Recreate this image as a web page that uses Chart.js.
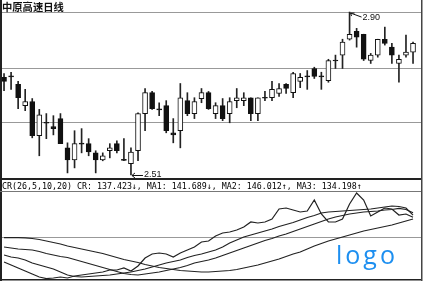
<!DOCTYPE html>
<html>
<head>
<meta charset="utf-8">
<script src="https://cdn.jsdelivr.net/npm/chart.js@4.4.0/dist/chart.umd.min.js"></script>
<style>
  html, body { margin: 0; padding: 0; background: #fff; }
  #wrap { position: relative; width: 425px; height: 281px; overflow: hidden; background: #fff; }
  canvas { position: absolute; left: 0; }
  #title { position: absolute; left: 2px; top: 1px; font: 700 10.3px "Noto Sans CJK SC"; line-height: 12px; color: #111; }
  #crhead { position: absolute; left: 2px; top: 181px; font: 8.3px "DejaVu Sans Mono"; line-height: 10px; color: #000; white-space: pre; }
  #logo { position: absolute; left: 336px; top: 242px; font: 25px "Open Sans"; line-height: 25px; letter-spacing: 3px; color: #1d8ff0; }
</style>
</head>
<body>
<div id="wrap">
  <canvas id="kline" width="425" height="178" style="top:0"></canvas>
  <canvas id="cr" width="425" height="103" style="top:178px"></canvas>
  <div id="title">中原高速日线</div>
  <div id="crhead">CR(26,5,10,20) CR: 137.423↓, MA1: 141.689↓, MA2: 146.012↑, MA3: 134.198↑</div>
  <div id="logo">logo</div>
</div>
<script>
// daily candles (price), one entry per trading day
var opens  = [2.744, 2.746, 2.727, 2.676, 2.686, 2.604, 2.635, 2.626, 2.645, 2.575,
              2.546, 2.585, 2.585, 2.563, 2.546, 2.568, 2.585, 2.546, 2.537, 2.568,
              2.657, 2.707, 2.667, 2.676, 2.611, 2.616, 2.688, 2.657, 2.693, 2.707,
              2.657, 2.676, 2.657, 2.688, 2.688, 2.695, 2.657, 2.695, 2.695, 2.705,
              2.727, 2.707, 2.734, 2.746, 2.765, 2.746, 2.736, 2.784, 2.797, 2.835,
              2.854, 2.847, 2.784, 2.797, 2.835, 2.816, 2.777, 2.797, 2.804];
var closes = [2.734, 2.746, 2.695, 2.686, 2.604, 2.654, 2.635, 2.621, 2.585, 2.546,
              2.585, 2.585, 2.565, 2.546, 2.556, 2.575, 2.568, 2.546, 2.565, 2.657,
              2.707, 2.669, 2.667, 2.616, 2.606, 2.695, 2.657, 2.686, 2.707, 2.669,
              2.676, 2.645, 2.686, 2.695, 2.695, 2.657, 2.695, 2.695, 2.715, 2.717,
              2.717, 2.753, 2.744, 2.746, 2.746, 2.746, 2.784, 2.784, 2.828, 2.847,
              2.840, 2.787, 2.797, 2.835, 2.825, 2.797, 2.787, 2.804, 2.825];
var highs  = [2.753, 2.756, 2.734, 2.715, 2.693, 2.667, 2.657, 2.652, 2.657, 2.587,
              2.616, 2.621, 2.597, 2.568, 2.563, 2.585, 2.592, 2.597, 2.575, 2.659,
              2.717, 2.710, 2.683, 2.688, 2.645, 2.729, 2.707, 2.695, 2.717, 2.710,
              2.683, 2.693, 2.695, 2.717, 2.707, 2.695, 2.695, 2.710, 2.734, 2.729,
              2.729, 2.756, 2.753, 2.760, 2.768, 2.756, 2.787, 2.797, 2.835, 2.900,
              2.861, 2.847, 2.801, 2.835, 2.864, 2.825, 2.797, 2.845, 2.828];
var lows   = [2.712, 2.715, 2.669, 2.664, 2.599, 2.556, 2.597, 2.606, 2.585, 2.515,
              2.527, 2.563, 2.556, 2.515, 2.544, 2.551, 2.563, 2.544, 2.510, 2.544,
              2.616, 2.667, 2.652, 2.611, 2.587, 2.575, 2.652, 2.645, 2.683, 2.667,
              2.645, 2.640, 2.635, 2.671, 2.676, 2.640, 2.640, 2.688, 2.688, 2.698,
              2.705, 2.695, 2.719, 2.715, 2.741, 2.715, 2.732, 2.765, 2.765, 2.833,
              2.816, 2.784, 2.777, 2.792, 2.821, 2.777, 2.732, 2.792, 2.777];

// CR(26,5,10,20) indicator and its three averages
var cr  = [52.5, 46.8, 41.1, 35.4, 29.7, 24.0, 21.0, 22.1, 24.0, 22.1,
           25.9, 27.8, 29.7, 31.6, 33.5, 37.3, 37.3, 41.1, 35.4, 44.9,
           60.1, 67.7, 69.6, 67.7, 62.0, 69.6, 75.3, 81.0, 90.5, 92.4,
           101.9, 107.6, 109.5, 113.3, 119.0, 128.5, 126.6, 128.5, 134.2, 153.2,
           155.1, 151.3, 147.5, 149.4, 170.3, 143.7, 128.5, 128.5, 134.2, 162.7,
           183.6, 170.3, 139.9, 147.5, 155.1, 153.2, 141.8, 143.7, 137.4];
var ma1 = [65.8, 62.0, 60.1, 56.3, 50.6, 46.8, 43.0, 39.2, 33.5, 27.8,
           25.0, 24.0, 25.0, 25.9, 26.9, 27.8, 29.7, 31.6, 33.5, 36.4,
           39.2, 43.0, 46.8, 50.6, 53.5, 56.3, 61.1, 64.9, 67.7, 71.5,
           75.3, 81.0, 88.6, 94.3, 100.0, 103.8, 107.6, 111.4, 115.2, 120.0,
           123.8, 127.6, 132.3, 137.1, 140.9, 145.6, 147.5, 148.5, 149.4, 150.4,
           151.3, 152.3, 153.2, 155.1, 157.0, 158.9, 158.0, 155.1, 141.7];
var ma2 = [81.0, 79.1, 77.2, 76.3, 75.3, 72.5, 68.7, 65.8, 63.0, 61.1,
           57.3, 53.5, 49.7, 45.9, 42.1, 38.3, 34.5, 30.7, 28.8, 27.8,
           29.7, 31.6, 33.5, 36.4, 39.2, 42.1, 45.9, 50.6, 53.5, 56.3,
           60.1, 64.9, 69.6, 74.4, 79.1, 83.9, 88.6, 93.4, 97.2, 101.9,
           105.7, 110.5, 115.2, 120.0, 124.7, 129.5, 134.2, 138.0, 140.9, 143.7,
           145.6, 147.5, 148.5, 149.4, 151.3, 152.3, 154.2, 152.3, 146.0];
var ma3 = [98.7, 98.7, 98.7, 98.5, 97.2, 95.3, 92.4, 89.6, 86.7, 82.9,
           80.1, 77.2, 74.4, 71.5, 68.7, 64.9, 61.1, 57.3, 54.4, 51.6,
           47.8, 44.9, 42.1, 40.2, 38.3, 36.4, 35.4, 34.5, 33.5, 33.5,
           34.5, 35.4, 36.4, 38.3, 41.1, 44.0, 46.8, 50.6, 54.4, 58.2,
           63.0, 67.7, 71.5, 77.2, 82.9, 87.7, 92.4, 96.2, 100.0, 103.8,
           107.6, 111.4, 114.3, 117.1, 120.0, 122.8, 126.6, 130.4, 134.2];

var priceGrid = [2.635, 2.765, 2.898];
var crGrid = [100];

var days = opens.map(function (v, i) { return i; });
function dayAxis() {
  return { type: 'linear', display: false, offset: false, min: -0.43, max: 59.13, grid: { offset: false } };
}

// left / right frame of each panel
var framePlugin = {
  id: 'frame',
  afterDraw: function (chart) {
    var ctx = chart.ctx, a = chart.chartArea;
    ctx.save();
    ctx.fillStyle = '#222';
    ctx.fillRect(0, 0, 2, chart.height);
    ctx.fillStyle = '#444';
    ctx.fillRect(a.right, 0, 1.5, chart.height);
    if (chart.canvas.id === 'cr') {
      ctx.fillStyle = '#222';
      ctx.fillRect(0, 0, a.right, 2);
      ctx.fillRect(0, a.bottom, a.right, 1.5);
      ctx.fillStyle = '#777';
      ctx.fillRect(0, a.top, a.right, 1);
    }
    ctx.restore();
  }
};

// high / low labels on the candle panel
var markPlugin = {
  id: 'marks',
  afterDatasetsDraw: function (chart) {
    var xs = chart.scales.x, ys = chart.scales.y, ctx = chart.ctx;
    var hi = highs.indexOf(Math.max.apply(null, highs));
    var lo = lows.indexOf(Math.min.apply(null, lows));
    ctx.save();
    ctx.strokeStyle = '#111';
    ctx.fillStyle = '#111';
    ctx.lineWidth = 1;
    ctx.font = '9px "Liberation Sans"';
    ctx.textBaseline = 'middle';

    var px = xs.getPixelForValue(hi), py = ys.getPixelForValue(highs[hi]);
    ctx.beginPath();
    ctx.moveTo(px + 1, py + 1); ctx.lineTo(px + 12, py + 5);
    ctx.moveTo(px + 1, py + 1); ctx.lineTo(px + 5, py + 1);
    ctx.moveTo(px + 1, py + 1); ctx.lineTo(px + 2, py + 4);
    ctx.stroke();
    ctx.fillText(highs[hi].toFixed(2), px + 13, py + 5);

    px = xs.getPixelForValue(lo); py = ys.getPixelForValue(lows[lo]);
    ctx.beginPath();
    ctx.moveTo(px + 1, py + 0.5); ctx.lineTo(px + 12, py + 0.5);
    ctx.moveTo(px + 1, py + 0.5); ctx.lineTo(px + 4, py - 2);
    ctx.moveTo(px + 1, py + 0.5); ctx.lineTo(px + 4, py + 3);
    ctx.stroke();
    ctx.fillText(lows[lo].toFixed(2), px + 13, py);
    ctx.restore();
  }
};

new Chart(document.getElementById('kline'), {
  type: 'bar',
  data: {
    datasets: [
      {
        label: 'body',
        data: days.map(function (i) {
          var o = opens[i], c = closes[i];
          return { x: i, y: o === c ? [o - 0.0012, o + 0.0012] : [o, c] };
        }),
        backgroundColor: days.map(function (i) { return closes[i] > opens[i] ? '#fff' : '#111'; }),
        borderColor: '#111',
        borderWidth: 1,
        borderSkipped: false,
        barThickness: 5,
        grouped: false,
        order: 1
      },
      {
        label: 'wick',
        data: days.map(function (i) { return { x: i, y: [lows[i], highs[i]] }; }),
        backgroundColor: '#222',
        barThickness: 1,
        grouped: false,
        order: 2
      }
    ]
  },
  options: {
    responsive: false,
    animation: false,
    events: [],
    layout: { padding: { left: 1, right: 4, top: 0, bottom: 0 } },
    plugins: { legend: { display: false }, tooltip: { enabled: false } },
    scales: {
      x: dayAxis(),
      y: {
        min: 2.5028, max: 2.9289,
        afterBuildTicks: function (s) { s.ticks = priceGrid.map(function (v) { return { value: v }; }); },
        ticks: { display: false },
        border: { display: false },
        grid: { color: '#999', drawTicks: false }
      }
    }
  },
  plugins: [framePlugin, markPlugin]
});

function crLine(vals) {
  return {
    data: days.map(function (i) { return { x: i, y: vals[i] }; }),
    borderColor: '#222',
    borderWidth: 1.2,
    pointRadius: 0,
    tension: 0
  };
}

new Chart(document.getElementById('cr'), {
  type: 'line',
  data: { datasets: [crLine(cr), crLine(ma1), crLine(ma2), crLine(ma3)] },
  options: {
    responsive: false,
    animation: false,
    events: [],
    layout: { padding: { left: 1, right: 4, top: 13, bottom: 2 } },
    plugins: { legend: { display: false }, tooltip: { enabled: false } },
    scales: {
      x: dayAxis(),
      y: {
        min: 20.2, max: 187.4,
        afterBuildTicks: function (s) { s.ticks = crGrid.map(function (v) { return { value: v }; }); },
        ticks: { display: false },
        border: { display: false },
        grid: { color: '#999', drawTicks: false }
      }
    }
  },
  plugins: [framePlugin]
});
</script>
</body>
</html>
